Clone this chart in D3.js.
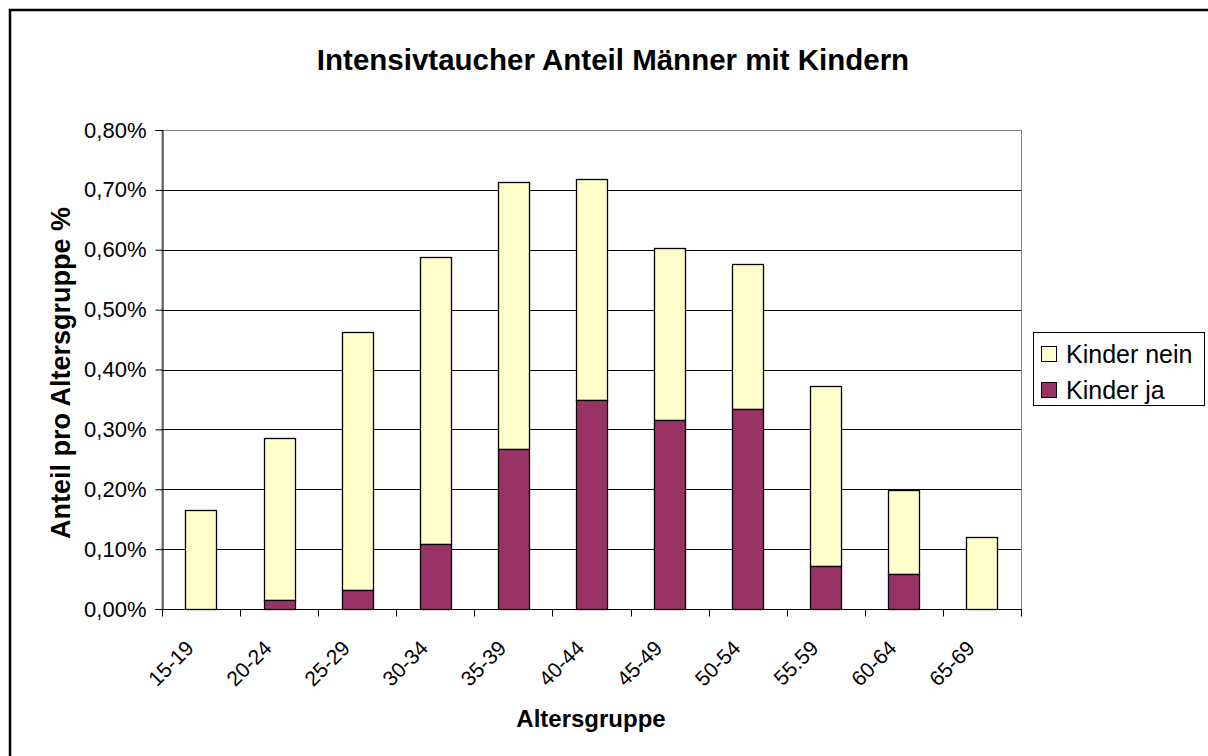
<!doctype html>
<html>
<head>
<meta charset="utf-8">
<script src="https://d3js.org/d3.v7.min.js"></script>
<style>
  body { margin: 0; background: #fff; }
  svg { font-family: "Liberation Sans", Arial, sans-serif; }
</style>
</head>
<body>
<svg width="1208" height="756" id="chart"></svg>
<script>
    // data (percent values)
    var groups = ["15-19", "20-24", "25-29", "30-34", "35-39", "40-44", "45-49", "50-54", "55.59", "60-64", "65-69"];
    var kinderJa = [0, 0.015, 0.032, 0.109, 0.267, 0.349, 0.315, 0.334, 0.071, 0.058, 0];
    var kinderNein = [0.165, 0.271, 0.430, 0.479, 0.446, 0.369, 0.288, 0.243, 0.301, 0.141, 0.120];
    var yTicks = [0, 0.1, 0.2, 0.3, 0.4, 0.5, 0.6, 0.7, 0.8];
    var seriesNames = ["Kinder nein", "Kinder ja"];
    var seriesColors = ["#FFFFCC", "#993366"];

    var svg = d3.select("svg");
    var plotLeft = 162, plotRight = 1021, plotTop = 130, plotBottom = 609;

    // outer frame
    svg.append("rect")
       .attr("x", 10).attr("y", 10)
       .attr("width", 1205).attr("height", 770)
       .attr("fill", "none")
       .attr("stroke", "#000")
       .attr("stroke-width", 2.5);

    var xScale = d3.scaleBand().domain(groups).range([plotLeft, plotRight]).paddingInner(0.6).paddingOuter(0.3);
    var xBand = d3.scaleBand().domain(groups).range([plotLeft, plotRight]);
    var yScale = d3.scaleLinear().domain([0, 0.8]).range([plotBottom, plotTop]);

    // plot area border (grey)
    svg.append("rect")
       .attr("x", plotLeft).attr("y", plotTop + 0.5)
       .attr("width", plotRight - plotLeft + 0.5).attr("height", plotBottom - plotTop)
       .attr("fill", "none")
       .attr("stroke", "#808080")
       .attr("stroke-width", 1);

    // gridlines
    svg.append("g")
       .selectAll("line")
       .data(yTicks.filter(function(d) { return d > 0 && d < 0.8; }))
       .enter().append("line")
       .attr("x1", plotLeft).attr("x2", plotRight)
       .attr("y1", function(d) { return Math.round(yScale(d)) + 0.5; })
       .attr("y2", function(d) { return Math.round(yScale(d)) + 0.5; })
       .attr("stroke", "#000")
       .attr("stroke-width", 1);

    // stacked bars
    var rows = groups.map(function(g, i) {
        return { group: g, ja: kinderJa[i], nein: kinderNein[i] };
    });
    var stack = d3.stack().keys(["nein", "ja"]).order(function() { return [1, 0]; });
    var layers = stack(rows);

    var layerG = svg.append("g")
       .selectAll("g")
       .data(layers)
       .enter().append("g")
       .attr("fill", function(d) { return d.key === "ja" ? seriesColors[1] : seriesColors[0]; });

    layerG.selectAll("rect")
       .data(function(d) { return d.filter(function(p) { return p[1] - p[0] > 0; }); })
       .enter().append("rect")
       .attr("x", function(d) { return Math.round(xScale(d.data.group)) + 0.5; })
       .attr("width", Math.round(xScale.bandwidth()))
       .attr("y", function(d) { return Math.round(yScale(d[1])) + 0.5; })
       .attr("height", function(d) { return Math.round(yScale(d[0])) - Math.round(yScale(d[1])); })
       .attr("stroke", "#000")
       .attr("stroke-width", 1.3);

    // y axis
    var yAxis = svg.append("g")
       .attr("transform", "translate(" + (plotLeft + 0.5) + ",0)")
       .call(d3.axisLeft(yScale).tickValues(yTicks).tickSize(7).tickPadding(9)
             .tickFormat(function(d) { return d3.format(".2f")(d).replace(".", ",") + "%"; }));
    yAxis.select(".domain").attr("stroke", "#000");
    yAxis.selectAll(".tick line").attr("stroke", "#000");
    yAxis.selectAll("text").attr("font-size", "22px").attr("fill", "#000")
       .attr("font-family", "Liberation Sans, Arial, sans-serif");

    // x axis
    var xAxis = svg.append("g")
       .attr("transform", "translate(0," + (plotBottom + 0.5) + ")");
    xAxis.append("line")
       .attr("x1", plotLeft).attr("x2", plotRight + 0.5)
       .attr("stroke", "#000");
    xAxis.selectAll(".xtick")
       .data(groups.concat(["end"]))
       .enter().append("line")
       .attr("x1", function(d, i) { return Math.round(plotLeft + i * xBand.bandwidth()) + 0.5; })
       .attr("x2", function(d, i) { return Math.round(plotLeft + i * xBand.bandwidth()) + 0.5; })
       .attr("y1", 0).attr("y2", 7)
       .attr("stroke", "#000");
    xAxis.selectAll(".xlabel")
       .data(groups)
       .enter().append("text")
       .attr("transform", function(d) {
           return "translate(" + (xBand(d) + xBand.bandwidth() / 2 - 6) + ",40) rotate(-45)";
       })
       .attr("text-anchor", "end")
       .attr("font-size", "21px")
       .text(function(d) { return d; });

    // title
    svg.append("text")
       .attr("x", 613).attr("y", 70)
       .attr("text-anchor", "middle")
       .attr("font-size", "29.5px")
       .attr("font-weight", "bold")
       .text("Intensivtaucher Anteil Männer mit Kindern");

    // axis titles
    svg.append("text")
       .attr("x", 591).attr("y", 727)
       .attr("text-anchor", "middle")
       .attr("font-size", "24px")
       .attr("font-weight", "bold")
       .text("Altersgruppe");

    svg.append("text")
       .attr("transform", "translate(70,373) rotate(-90)")
       .attr("text-anchor", "middle")
       .attr("font-size", "27px")
       .attr("font-weight", "bold")
       .text("Anteil pro Altersgruppe %");

    // legend
    var legend = svg.append("g");
    legend.append("rect")
       .attr("x", 1033.5).attr("y", 332.5)
       .attr("width", 171).attr("height", 73)
       .attr("fill", "#fff")
       .attr("stroke", "#000");
    var items = legend.selectAll(".item")
       .data(seriesNames)
       .enter().append("g")
       .attr("transform", function(d, i) { return "translate(1041," + (354 + i * 36) + ")"; });
    items.append("rect")
       .attr("x", 0.5).attr("y", -7.5)
       .attr("width", 15).attr("height", 15)
       .attr("fill", function(d, i) { return seriesColors[i]; })
       .attr("stroke", "#000");
    items.append("text")
       .attr("x", 25).attr("y", 0)
       .attr("dy", "0.36em")
       .attr("font-size", "25px")
       .text(function(d) { return d; });
</script>
</body>
</html>
